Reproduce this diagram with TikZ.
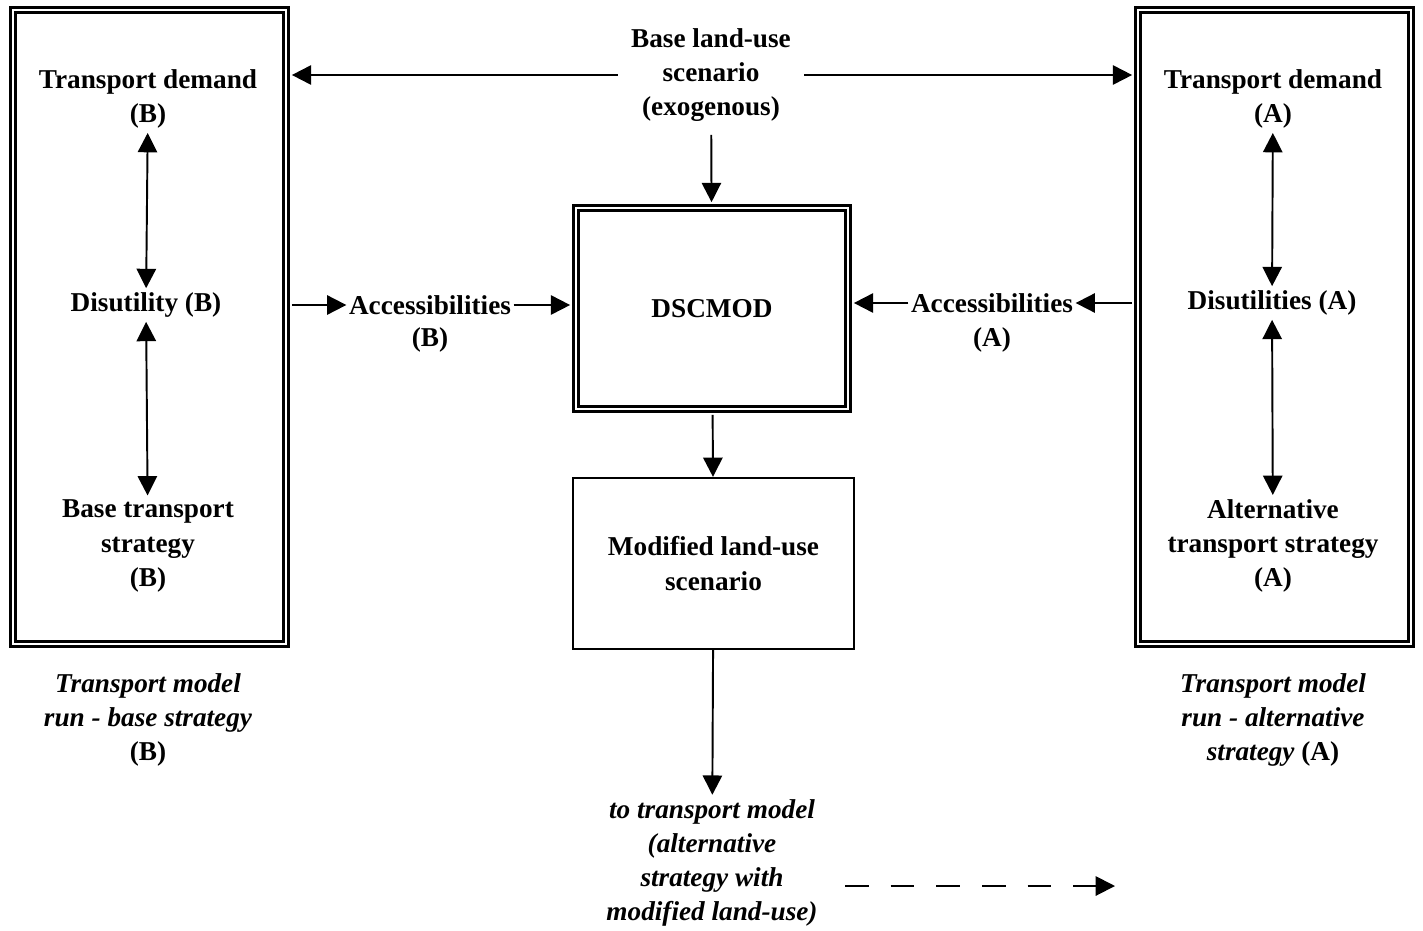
\documentclass[tikz,border=0pt]{standalone}
\usepackage{fontspec}
\setmainfont{Liberation Serif}
\usetikzlibrary{arrows.meta,positioning}

\begin{document}
\begin{tikzpicture}[x=0.02cm,y=-0.02cm,
    every node/.style={font=\fontsize{15.5}{19.5}\selectfont\bfseries, align=center, inner sep=2pt},
    dbox/.style={draw, double, line width=1.7pt, double distance=1.2pt},
    sbox/.style={draw, line width=1.3pt},
    >={Triangle[length=11pt,width=11pt]}, line width=1.1pt]
    \useasboundingbox (0,0) rectangle (1423,930);

    \node[dbox, minimum width=5.46cm, minimum height=12.68cm] (lbox) at (149.5,327) {};
    \node[dbox, minimum width=5.46cm, minimum height=12.68cm] (rbox) at (1274.5,327) {};
    \node[dbox, minimum width=5.44cm, minimum height=4.02cm] (dsc) at (712,308.5) {DSCMOD};
    \node[sbox, minimum width=5.62cm, minimum height=3.42cm] (mod) at (713.5,563.5) {Modified land-use\\scenario};

    \node[inner sep=7pt] (base) at (711,75) {Base land-use\\scenario\\(exogenous)};
    \node (tdB) at (148,99) {Transport demand\\(B)};
    \node (disB) at (146,305) {Disutility (B)};
    \node (btsB) at (148,546) {Base transport\\strategy\\(B)};
    \node (tdA) at (1273,99) {Transport demand\\(A)};
    \node (disA) at (1272,303) {Disutilities (A)};
    \node (atsA) at (1273,546) {Alternative\\transport strategy\\(A)};
    \node[inner sep=1pt] (accB) at (430,305) {Accessibilities};
    \node (accBl) at (430,340) {(B)};
    \node[inner sep=1pt] (accA) at (992,303) {Accessibilities};
    \node (accAl) at (992,340) {(A)};
    \node (capB) at (148,720) {\itshape Transport model\\\itshape run - base strategy\\(B)};
    \node (capA) at (1273,720) {\itshape Transport model\\\itshape run - alternative\\\itshape strategy \upshape (A)};
    \node (totm) at (712,863) {\itshape to transport model\\\itshape (alternative\\\itshape strategy with\\\itshape modified land-use)};
    \coordinate (dashS) at (845,886);
    \coordinate (dashE) at (1115,886);

    \draw[->, shorten >=2.5pt] (base.west) -- (base.west -| lbox.east);
    \draw[->, shorten >=2.5pt] (base.east) -- (base.east -| rbox.west);
    \draw[->, shorten >=2.5pt] (base) -- (dsc);
    \draw[<->] (disB) edge (tdB) edge (btsB)
    (disA) edge (tdA) edge (atsA);
    \draw[->, shorten <=2.5pt] (lbox.east |- accB) -- (accB);
    \draw[->, shorten >=2.5pt] (accB) -- (accB -| dsc.west);
    \draw[->, shorten <=2.5pt] (rbox.west |- accA) -- (accA);
    \draw[->, shorten >=2.5pt] (accA) -- (accA -| dsc.east);
    \draw[->, shorten <=2.5pt] (dsc) -- (mod);
    \draw[->] (mod) -- (totm);
    \draw[->, dash pattern=on 13.5pt off 12.5pt] (dashS) -- (dashE);
\end{tikzpicture}
\end{document}
